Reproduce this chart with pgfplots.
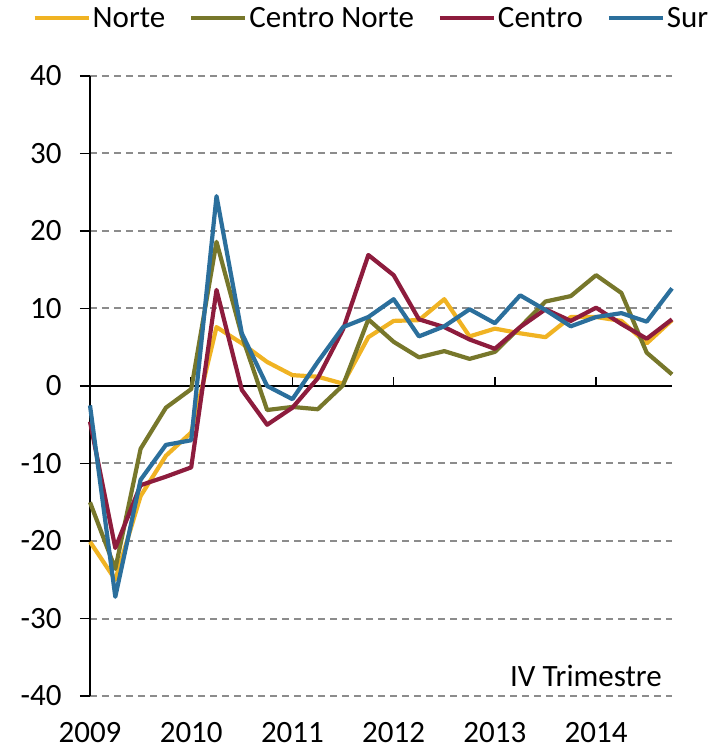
\documentclass[border=0pt]{standalone}
\usepackage{pgfplots}
\pgfplotsset{compat=1.18}
\usepackage{fontspec}
\setmainfont{Carlito}
\definecolor{cNorte}{HTML}{F0B323}
\definecolor{cCN}{HTML}{77772B}
\definecolor{cCentro}{HTML}{8D1C3D}
\definecolor{cSur}{HTML}{2B6F9C}
\definecolor{cGrid}{HTML}{8C8C8C}
\newcommand{\bigf}{\fontsize{31}{36}\selectfont}
\begin{document}
\begin{tikzpicture}
\begin{axis}[name=ax,
  scale only axis, width=582pt, height=620pt,
  xmin=0, xmax=23, ymin=-40, ymax=40,
  clip=false,
  axis x line=bottom, axis y line=left,
  axis line style={-},
  x axis line style={draw=none},
  y axis line style={line width=1.5pt, black},
  xtick={0,4,8,12,16,20},
  xticklabels={2009,2010,2011,2012,2013,2014},
  major x tick style={draw=none},
  ytick={-40,-30,...,40},
  major y tick style={line width=1.5pt, black},
  tick align=outside, major tick length=10pt,
  ymajorgrids, grid style={cGrid, line width=2pt, dash pattern=on 7pt off 5pt},
  /pgf/number format/assume math mode=true,
  tick label style={font=\bigf},
  xticklabel style={inner sep=0pt, yshift=-16pt},
  yticklabel style={xshift=-15pt},
  legend columns=4,
  legend style={draw=none, fill=none, at={(0.4837,1.0935)}, anchor=center, font=\bigf,
    /tikz/every even column/.append style={column sep=22pt}, nodes={inner sep=2pt}},
  legend image code/.code={\draw[#1, line width=4pt] (0pt,0pt) -- (54pt,0pt);},
  every axis plot/.append style={line width=4.2pt, line join=round, mark=none},
]
\draw[line width=1.5pt, black] (axis cs:0,0) -- (axis cs:23,0);
\draw[line width=1.5pt, black] (axis cs:4,0) -- ([yshift=9pt]axis cs:4,0);
\draw[line width=1.5pt, black] (axis cs:8,0) -- ([yshift=9pt]axis cs:8,0);
\draw[line width=1.5pt, black] (axis cs:12,0) -- ([yshift=9pt]axis cs:12,0);
\draw[line width=1.5pt, black] (axis cs:16,0) -- ([yshift=9pt]axis cs:16,0);
\draw[line width=1.5pt, black] (axis cs:20,0) -- ([yshift=9pt]axis cs:20,0);
\addplot[cNorte] coordinates {(0,-20.1) (1,-25) (2,-14.2) (3,-9) (4,-6) (5,7.6) (6,5.5) (7,3.1) (8,1.4) (9,1.2) (10,0.3) (11,6.3) (12,8.4) (13,8.5) (14,11.2) (15,6.4) (16,7.4) (17,6.8) (18,6.3) (19,8.9) (20,8.9) (21,8.4) (22,5.5) (23,8.5)};
\addlegendentry{Norte}
\addplot[cCN] coordinates {(0,-15) (1,-23.6) (2,-8.1) (3,-2.8) (4,-0.4) (5,18.6) (6,6.5) (7,-3.1) (8,-2.7) (9,-3.0) (10,0.1) (11,8.6) (12,5.7) (13,3.7) (14,4.5) (15,3.5) (16,4.4) (17,7.6) (18,10.9) (19,11.6) (20,14.3) (21,12.0) (22,4.3) (23,1.5)};
\addlegendentry{Centro Norte}
\addplot[cCentro] coordinates {(0,-4.6) (1,-20.9) (2,-12.8) (3,-11.7) (4,-10.5) (5,12.4) (6,-0.5) (7,-5.0) (8,-2.8) (9,1.0) (10,7.3) (11,16.9) (12,14.3) (13,8.6) (14,7.6) (15,6.0) (16,4.8) (17,7.6) (18,9.9) (19,8.4) (20,10.1) (21,8.0) (22,6.1) (23,8.6)};
\addlegendentry{Centro}
\addplot[cSur] coordinates {(0,-2.5) (1,-27.2) (2,-12.1) (3,-7.6) (4,-7.0) (5,24.5) (6,6.8) (7,0.0) (8,-1.7) (9,3.1) (10,7.6) (11,8.9) (12,11.2) (13,6.4) (14,7.7) (15,9.9) (16,8.1) (17,11.7) (18,9.8) (19,7.7) (20,8.9) (21,9.4) (22,8.3) (23,12.6)};
\addlegendentry{Sur}
\node[anchor=base east, font=\bigf, inner sep=0pt] at ([xshift=-10pt,yshift=10pt]rel axis cs:1,0) {IV Trimestre};
\end{axis}
\path (ax.south west) ++(-90pt,-55pt) coordinate (bbA);
\path (ax.north east) ++(54pt,76pt) coordinate (bbB);
\pgfresetboundingbox
\useasboundingbox (bbA) rectangle (bbB);
\end{tikzpicture}
\end{document}
